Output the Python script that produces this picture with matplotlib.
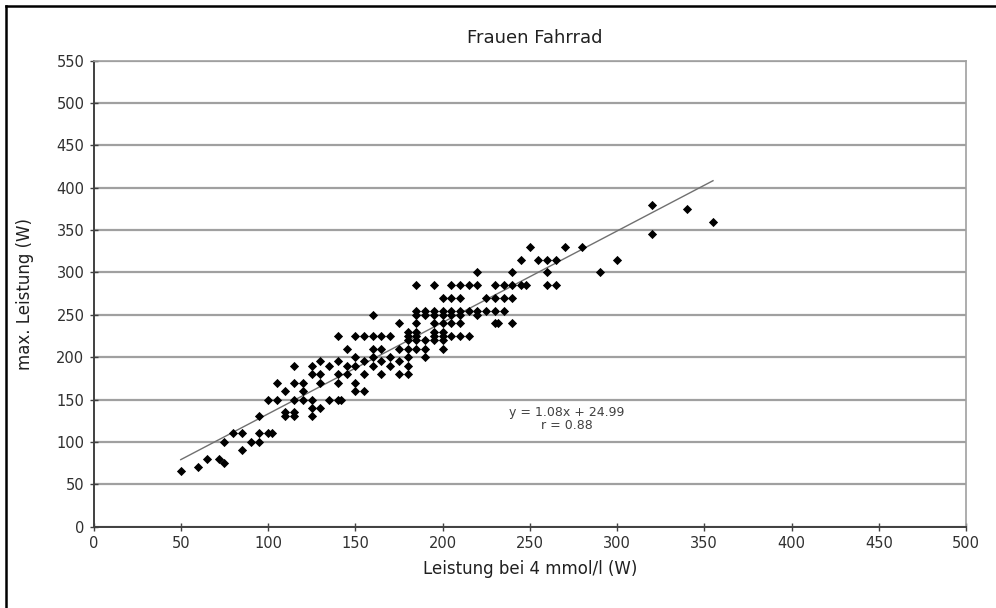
import matplotlib
matplotlib.use("Agg")
import matplotlib.pyplot as plt
from matplotlib.lines import Line2D
import numpy as np

plt.rcParams['font.family'] = ['DejaVu Sans']

# Messwerte je Stufe der max. Leistung: Leistung bei 4 mmol/l (W)
rows = {
    65: [50],
    70: [60],
    75: [75],
    80: [65, 72],
    90: [85],
    100: [75, 90, 95],
    110: [80, 85, 95, 100, 102],
    130: [95, 110, 115, 125],
    135: [110, 115],
    140: [125, 130],
    150: [100, 105, 115, 120, 125, 135, 140, 142],
    160: [110, 120, 150, 155],
    170: [105, 115, 120, 130, 140, 150],
    180: [125, 130, 140, 145, 155, 165, 175, 180],
    190: [115, 125, 135, 145, 150, 160, 170, 180],
    195: [130, 140, 155, 165, 175],
    200: [150, 160, 170, 180, 190],
    210: [145, 160, 165, 175, 180, 185, 190, 200],
    220: [180, 185, 190, 195, 200],
    225: [140, 150, 155, 160, 165, 170, 180, 185, 195, 200, 205, 210, 215],
    230: [180, 185, 195, 200],
    240: [175, 185, 195, 200, 205, 210, 230, 232, 240],
    250: [160, 185, 190, 195, 200, 205, 210, 220],
    255: [185, 190, 195, 200, 205, 210, 215, 220, 225, 230, 235],
    270: [200, 205, 210, 225, 230, 235, 240],
    285: [185, 195, 205, 210, 215, 220, 230, 235, 240, 245, 248, 260, 265],
    300: [220, 240, 260, 290],
    315: [245, 255, 260, 265, 300],
    330: [250, 270, 280],
    345: [320],
    360: [355],
    375: [340],
    380: [320],
}

leistung_4mmol = []
max_leistung = []
for y, xs in rows.items():
    for x in xs:
        leistung_4mmol.append(x)
        max_leistung.append(y)

slope = 1.08
intercept = 24.99
r_wert = 0.88
fit_x = [50, 355]

x_ticks = list(range(0, 501, 50))
y_ticks = list(range(0, 551, 50))

fig = plt.figure(figsize=(9.96, 6.08), dpi=100)
ax = fig.add_axes([0.0939, 0.134, 0.876, 0.766])

ax.set_xlim(0, 500)
ax.set_ylim(0, 550)
ax.set_xticks(x_ticks)
ax.set_yticks(y_ticks)
ax.yaxis.grid(True, color='#a0a0a0', linewidth=1.6)
ax.set_axisbelow(True)

for side in ['top', 'right']:
    ax.spines[side].set_color('#a0a0a0')
    ax.spines[side].set_linewidth(1.2)
for side in ['left', 'bottom']:
    ax.spines[side].set_color('#404040')
    ax.spines[side].set_linewidth(1.4)

ax.tick_params(direction='inout', length=6, width=1, color='#404040',
               labelsize=10.5, labelcolor='#303030')

ax.scatter(leistung_4mmol, max_leistung, marker='D', s=22, color='black',
           linewidths=0, zorder=3)

fx = np.array(fit_x)
ax.plot(fx, slope * fx + intercept, color='#707070', linewidth=1.0, zorder=2)

# Regressionsgleichung und Korrelation unter der Punktwolke
ax.text(271, 135, 'y = %.2fx + %.2f' % (slope, intercept), ha='center',
        va='center', fontsize=9, color='#404040')
ax.text(271, 119, 'r = %.2f' % r_wert, ha='center', va='center',
        fontsize=9, color='#404040')

fig.text(0.537, 0.938, 'Frauen Fahrrad', ha='center', va='center',
         fontsize=13, color='#202020')
ax.set_xlabel('Leistung bei 4 mmol/l (W)', fontsize=12, color='#202020',
              labelpad=7)
ax.set_ylabel('max. Leistung (W)', fontsize=12, color='#202020',
              labelpad=16)

fig.add_artist(Line2D([0.006, 1.0], [0.990, 0.990], color='black',
                      linewidth=1.8, transform=fig.transFigure))
fig.add_artist(Line2D([0.006, 0.006], [0.0, 0.990], color='black',
                      linewidth=1.8, transform=fig.transFigure))

fig.savefig('out.png', dpi=100)
